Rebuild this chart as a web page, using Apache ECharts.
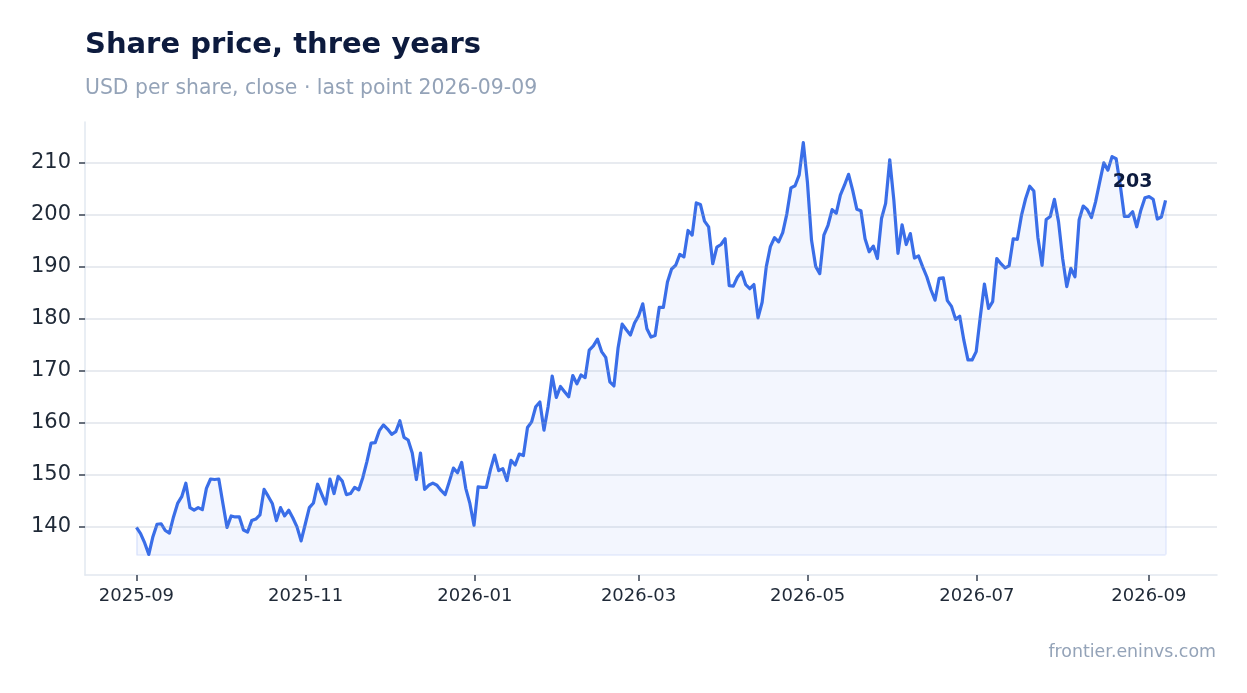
<!DOCTYPE html>
<html>
<head>
<meta charset="utf-8">
<title>Share price, three years</title>
<script src="https://cdn.jsdelivr.net/npm/echarts@6/dist/echarts.min.js"></script>
<style>
	html, body { margin: 0; padding: 0; background: #fff; }
	#chart { width: 1247px; height: 693px; }
</style>
</head>
<body>
<div id="chart"></div>
<script>
'use strict';

// first and last trading day shown on the chart
var startDate = '2025-09-01';
var endDate = '2026-09-07';

// closing prices, USD per share, in date order
var prices = [
	139.9, 138.7, 136.9, 134.7, 138.1, 140.5, 140.6, 139.3, 138.8, 141.9,
	144.5, 145.8, 148.4, 143.7, 143.2, 143.7, 143.3, 147.4, 149.2, 149.1,
	149.2, 144.5, 139.9, 142.1, 141.9, 141.9, 139.4, 139.0, 141.2, 141.5,
	142.3, 147.2, 145.9, 144.5, 141.2, 143.7, 142.1, 143.2, 141.7, 140.0,
	137.3,
	140.5, 143.7, 144.6, 148.2, 146.3, 144.4, 149.2, 146.4, 149.7, 148.8,
	146.2, 146.4, 147.6, 147.1, 149.5, 152.6, 156.1, 156.2, 158.5, 159.6,
	158.8, 157.8, 158.3, 160.4, 157.2, 156.7, 154.2, 149.1, 154.2, 147.2,
	148.0, 148.4, 148.0, 147.0, 146.2, 148.7, 151.3, 150.4, 152.4, 147.4,
	144.5, 140.3,
	147.7, 147.6, 147.6, 151.0, 153.8, 150.8, 151.2, 148.9, 152.8, 151.9,
	154.0, 153.7, 159.1, 160.2, 163.1, 164.0, 158.6, 163.1, 169.0, 164.9,
	167.0, 166.0, 165.0, 169.1, 167.5, 169.2, 168.7, 174.0, 174.8, 176.1,
	173.7, 172.6, 167.9, 167.1, 174.4, 179.0, 177.9, 176.9, 179.2, 180.6,
	182.9,
	178.1, 176.5, 176.8, 182.2, 182.2, 187.1, 189.6, 190.3, 192.4, 191.9,
	197.0, 196.1, 202.3, 202.0, 198.8, 197.7, 190.6, 193.8, 194.3, 195.4,
	186.4, 186.3, 188.0, 189.0, 186.6, 185.8, 186.6, 180.2, 183.2, 190.0,
	193.9, 195.6, 194.8, 196.6, 200.2, 205.2, 205.6, 207.7, 213.9, 206.3,
	195.1, 190.1,
	188.7, 196.1, 198.0, 201.0, 200.3, 203.8, 205.7, 207.8, 204.7, 201.1,
	200.8, 195.4, 192.9, 194.0, 191.6, 199.3, 202.2, 210.6, 202.8, 192.6,
	198.1, 194.3, 196.4, 191.7, 192.1, 190.0, 188.1, 185.6, 183.6, 187.8,
	187.9, 183.5, 182.4, 179.9, 180.5, 175.9, 172.1, 172.1, 173.7, 180.4,
	186.7,
	182.0, 183.3, 191.6, 190.6, 189.8, 190.2, 195.4, 195.3, 199.9, 203.1,
	205.5, 204.6, 195.6, 190.3, 199.1, 199.7, 203.0, 198.7, 191.6, 186.2,
	189.7, 188.1, 199.0, 201.7, 201.0, 199.5, 202.5, 206.3, 210.0, 208.6,
	211.2, 210.8, 205.7, 199.7, 199.7, 200.6, 197.7, 200.9, 203.3, 203.5,
	203.0, 199.2, 199.6, 202.8
];

// tick labels
var xTickMonths = ['2025-09', '2025-11', '2026-01', '2026-03', '2026-05', '2026-07', '2026-09'];
var yTicks = [140, 150, 160, 170, 180, 190, 200, 210];

var titleText = 'Share price, three years';
var subText = 'USD per share, close \u00b7 last point 2026-09-09';
var sourceText = 'frontier.eninvs.com';

function parseDay(s) {
	var p = s.split('-');
	return new Date(+p[0], +p[1] - 1, p[2] ? +p[2] : 1).getTime();
}

function pad2(n) {
	return n < 10 ? '0' + n : '' + n;
}

// prices are evenly spaced between the first and last day
function buildSeriesData() {
	var t0 = parseDay(startDate);
	var t1 = parseDay(endDate);
	var step = (t1 - t0) / (prices.length - 1);
	var out = [];
	for (var i = 0; i < prices.length; i++) {
		out.push([t0 + i * step, prices[i]]);
	}
	return out;
}

var seriesData = buildSeriesData();
var tFirst = seriesData[0][0];
var tLast = seriesData[seriesData.length - 1][0];
var pMin = Math.min.apply(null, prices);
var pMax = Math.max.apply(null, prices);
var pLast = prices[prices.length - 1];
var tPad = (tLast - tFirst) * 0.05;
var pPad = (pMax - pMin) * 0.05;

var xTickValues = xTickMonths.map(function(m) { return parseDay(m); });

// horizontal grid
var gridLines = yTicks.map(function(v) { return { yAxis: v }; });

// faint outline round the filled area
var edgeStyle = { color: 'rgba(58,110,232,0.10)', width: 2, type: 'solid' };
var areaEdges = [
	[{ coord: [tFirst, pMin], lineStyle: edgeStyle }, { coord: [tLast, pMin] }],
	[{ coord: [tFirst, pMin], lineStyle: edgeStyle }, { coord: [tFirst, prices[0]] }],
	[{ coord: [tLast, pMin], lineStyle: edgeStyle }, { coord: [tLast, pLast] }]
];

var chart = echarts.init(document.getElementById('chart'), null, { renderer: 'canvas' });

var option = {
	animation: false,
	backgroundColor: '#ffffff',
	textStyle: { fontFamily: 'DejaVu Sans' },
	title: [{
		text: titleText,
		left: 85,
		top: 31,
		padding: 0,
		textStyle: { fontSize: 29, fontWeight: 'bold', color: '#0d1b3e', fontFamily: 'DejaVu Sans' }
	}, {
		text: subText,
		left: 85,
		top: 79,
		padding: 0,
		textStyle: { fontSize: 20.4, fontWeight: 'normal', color: '#94a3b8', fontFamily: 'DejaVu Sans' }
	}, {
		text: sourceText,
		right: 31,
		top: 644,
		padding: 0,
		textStyle: { fontSize: 17.4, fontWeight: 'normal', color: '#94a3b8', fontFamily: 'DejaVu Sans' }
	}],
	grid: { left: 85, right: 30, top: 122, bottom: 118, containLabel: false },
	// dates as a plain value axis so the month ticks can be placed exactly
	xAxis: {
		type: 'value',
		min: tFirst - tPad,
		max: tLast + tPad,
		axisLine: { show: true, lineStyle: { color: '#e2e8f0', width: 1.5 } },
		axisTick: {
			show: true,
			customValues: xTickValues,
			length: 6,
			lineStyle: { color: '#374151', width: 1.5 }
		},
		axisLabel: {
			customValues: xTickValues,
			margin: 12,
			fontSize: 18,
			color: '#1f2937',
			fontFamily: 'DejaVu Sans',
			formatter: function(v) {
				var d = new Date(v);
				return d.getFullYear() + '-' + pad2(d.getMonth() + 1);
			}
		},
		splitLine: { show: false }
	},
	yAxis: {
		type: 'value',
		min: pMin - pPad,
		max: pMax + pPad,
		axisLine: { show: true, lineStyle: { color: '#e2e8f0', width: 1.5 } },
		axisTick: {
			show: true,
			customValues: yTicks,
			length: 6,
			lineStyle: { color: '#374151', width: 1.5 }
		},
		axisLabel: {
			customValues: yTicks,
			margin: 14,
			fontSize: 21,
			color: '#1f2937',
			fontFamily: 'DejaVu Sans'
		},
		splitLine: { show: false }
	},
	series: [{
		type: 'line',
		data: seriesData,
		showSymbol: false,
		symbol: 'none',
		lineStyle: { color: '#3a6ee8', width: 3.2, join: 'round' },
		itemStyle: { color: '#3a6ee8' },
		areaStyle: { color: 'rgba(58,110,232,0.09)', origin: pMin },
		endLabel: {
			show: true,
			distance: 0,
			align: 'center',
			verticalAlign: 'middle',
			offset: [-33, -18],
			fontSize: 19,
			fontWeight: 'bold',
			color: '#0d1b3e',
			fontFamily: 'DejaVu Sans',
			formatter: function(p) {
				return String(Math.round(p.value[1]));
			}
		},
		markLine: {
			silent: true,
			symbol: 'none',
			label: { show: false },
			lineStyle: { color: 'rgba(148,163,184,0.28)', width: 1.5, type: 'solid' },
			data: gridLines.concat(areaEdges)
		},
		z: 3
	}]
};

chart.setOption(option);
</script>
</body>
</html>
